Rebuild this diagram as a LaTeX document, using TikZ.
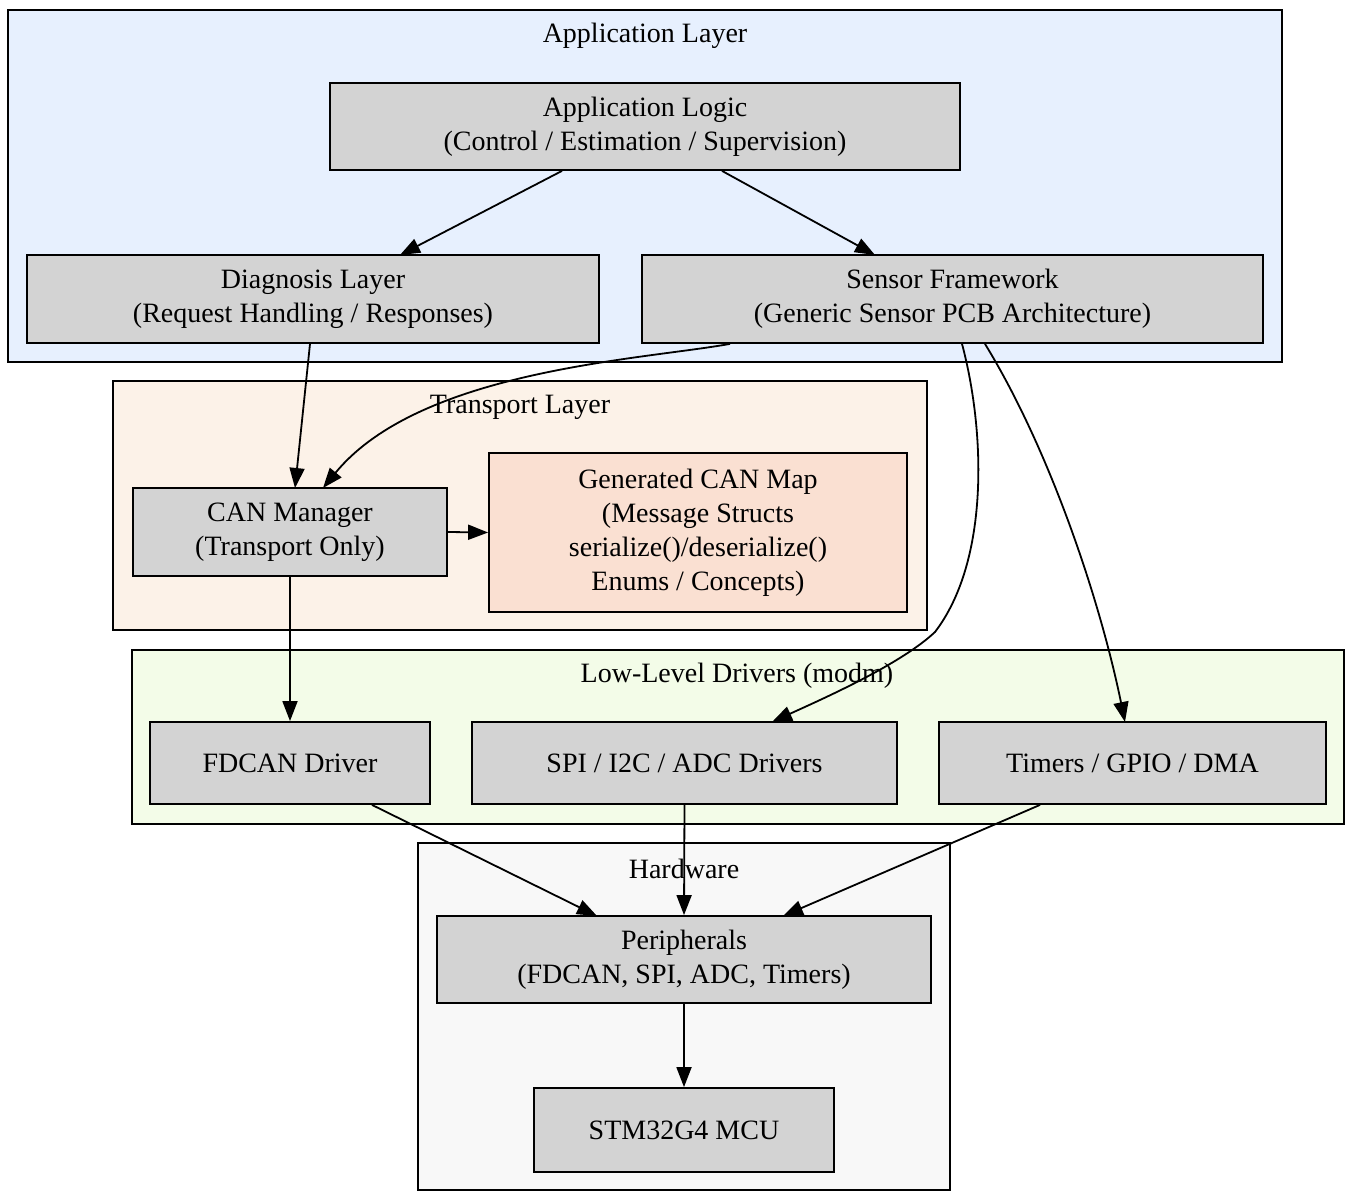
\documentclass[tikz,border=0pt]{standalone}
\usepackage{fontspec}
\setmainfont{Liberation Serif}
\usetikzlibrary{arrows.meta}
\begin{document}
\begin{tikzpicture}[x=1pt,y=-1pt,
  font=\fontsize{28}{34}\selectfont,
  box/.style={draw,line width=1.8pt,fill=boxgray,align=center,inner sep=0pt},
  clu/.style={draw,line width=1.8pt},
  lab/.style={inner sep=0pt},
  e/.style={line width=1.8pt,-{Triangle[length=20pt,width=15pt]}}]
\definecolor{boxgray}{HTML}{D3D3D3}
\definecolor{cA}{HTML}{E7F0FE}
\definecolor{cT}{HTML}{FCF2E8}
\definecolor{cL}{HTML}{F3FCE8}
\definecolor{cH}{HTML}{F8F8F8}
\definecolor{cM}{HTML}{FAE0D2}
\useasboundingbox (0,0) rectangle (1350,1198);
% clusters
\draw[clu,fill=cA] (8,10) rectangle (1282,362);
\node[lab] (lA) at (645,36) {Application Layer};
\draw[clu,fill=cT] (113,381) rectangle (927,630);
\node[lab] (lT) at (520,407) {Transport Layer};
\draw[clu,fill=cL] (132,650) rectangle (1344,824);
\node[lab] (lL) at (737,676) {Low-Level Drivers (modm)};
\draw[clu,fill=cH] (418,843) rectangle (950,1190);
\node[lab] (lH) at (684,869) {Hardware};
% nodes
\node[box,minimum width=630pt,minimum height=87pt] (app) at (645,126.5) {Application Logic\\(Control / Estimation / Supervision)};
\node[box,minimum width=572pt,minimum height=88pt] (diag) at (313,299) {Diagnosis Layer\\(Request Handling / Responses)};
\node[box,minimum width=621pt,minimum height=88pt] (sens) at (952.5,299) {Sensor Framework\\(Generic Sensor PCB Architecture)};
\node[box,minimum width=314pt,minimum height=88pt] (canm) at (290,532) {CAN Manager\\(Transport Only)};
\node[box,fill=cM,minimum width=418pt,minimum height=159pt] (map) at (698,532.5) {Generated CAN Map\\(Message Structs\\serialize()/deserialize()\\Enums / Concepts)};
\node[box,minimum width=280pt,minimum height=82pt] (fd) at (290,763) {FDCAN Driver};
\node[box,minimum width=425pt,minimum height=82pt] (spi) at (684.5,763) {SPI / I2C / ADC Drivers};
\node[box,minimum width=387pt,minimum height=82pt] (tim) at (1132.5,763) {Timers / GPIO / DMA};
\node[box,minimum width=494pt,minimum height=87pt] (per) at (684,959.5) {Peripherals\\(FDCAN, SPI, ADC, Timers)};
\node[box,minimum width=300pt,minimum height=84pt] (mcu) at (684,1130) {STM32G4 MCU};
% edges
\draw[e] (app.south -| 562,0) -- (400,255);
\draw[e] (app.south -| 722,0) -- (875,255);
\draw[e] (diag.south -| 310,0) -- (295,488);
\draw[e] (sens.south -| 730,0) .. controls (640,360) and (420,370) .. (323,488);
\draw[e] (sens.south -| 962,0) .. controls (985,430) and (990,560) .. (935,632) .. controls (900,665) and (820,700) .. (772,722);
\draw[e] (sens.south -| 985,0) .. controls (1050,450) and (1100,600) .. (1125,722);
\draw[e] (canm.east) -- (map.west);
\draw[e] (canm.south) -- (fd.north);
\draw[e] (fd.south -| 372,0) -- (597,916);
\draw[e] (spi.south) -- (per.north);
\draw[e] (tim.south -| 1040,0) -- (783,916);
\draw[e] (per.south) -- (mcu.north);
\end{tikzpicture}
\end{document}
